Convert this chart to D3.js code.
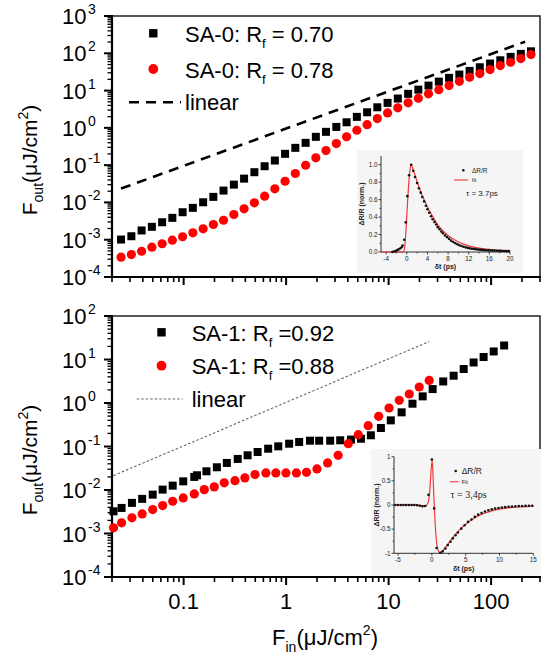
<!DOCTYPE html>
<html>
<head>
<meta charset="utf-8">
<script src="https://cdn.jsdelivr.net/npm/d3@7"></script>
<style>
  html, body { margin: 0; padding: 0; background: #fff; }
  svg { display: block; }
</style>
</head>
<body>
<svg id="chart" width="541" height="655"></svg>
<script>
// ---------- fluence axes ----------
const fluenceDomain = [0.02, 300];
const xTickLabels = ["0.1", "1", "10", "100"];
const xTickValues = [0.1, 1, 10, 100];

// ---------- SA-0 (upper panel) ----------
const sa0Fin = [0.0245, 0.0309, 0.0389, 0.049, 0.0617, 0.0776, 0.0977, 0.123, 0.155, 0.195,
  0.245, 0.309, 0.389, 0.49, 0.617, 0.776, 0.977, 1.23, 1.55, 1.95,
  2.45, 3.09, 3.89, 4.9, 6.17, 7.76, 9.77, 12.3, 15.5, 19.5,
  24.5, 30.9, 38.9, 49, 61.7, 77.6, 97.7, 123, 155, 195, 245];
const sa0Rf070 = [1.01e-3, 1.24e-3, 1.77e-3, 2.22e-3, 2.94e-3, 3.86e-3, 5.46e-3, 7.16e-3, 1.01e-2, 1.41e-2,
  2.08e-2, 3.0e-2, 4.35e-2, 6.46e-2, 9.35e-2, 0.133, 0.201, 0.291, 0.396, 0.574,
  0.782, 1.06, 1.41, 1.97, 2.62, 3.56, 4.68, 6.11, 8.17, 10.6,
  13.6, 17.4, 21.9, 26.9, 33.7, 42.2, 53, 64.9, 80, 96.4, 113];
const sa0Rf078 = [3.4e-4, 4.0e-4, 4.9e-4, 6.3e-4, 7.8e-4, 9.7e-4, 1.2e-3, 1.53e-3, 1.96e-3, 2.56e-3,
  3.33e-3, 4.74e-3, 6.73e-3, 9.75e-3, 1.47e-2, 2.32e-2, 3.7e-2, 5.96e-2, 9.93e-2, 0.157,
  0.246, 0.379, 0.574, 0.863, 1.22, 1.77, 2.52, 3.44, 4.68, 6.22,
  8.17, 10.6, 13.6, 17.7, 22.8, 28.6, 36.6, 46.8, 57.4, 72.1, 92.3];
const sa0LinearFin = [0.0245, 215];
const sa0LinearFout = [0.0235, 205];

// ---------- SA-1 (lower panel) ----------
const sa1FinA = [0.0207, 0.0248, 0.0313, 0.0394, 0.0499, 0.0624, 0.0782, 0.0991, 0.127, 0.135,
  0.167, 0.211, 0.264, 0.337, 0.421, 0.527, 0.668, 0.838, 1.07, 1.34,
  1.71, 2.10, 2.69, 3.37, 4.29, 5.37, 6.71, 8.41, 10.5, 13.4,
  17.1, 21.5, 26.9, 34.1, 43.1, 54.0, 67.5, 84.5, 106, 134];
const sa1Rf092 = [3.24e-3, 3.87e-3, 5.06e-3, 6.25e-3, 7.83e-3, 1.02e-2, 1.26e-2, 1.58e-2, 2.0e-2, 2.18e-2,
  2.69e-2, 3.33e-2, 4.19e-2, 5.18e-2, 6.28e-2, 7.48e-2, 8.91e-2, 0.101, 0.116, 0.127,
  0.136, 0.136, 0.136, 0.139, 0.144, 0.151, 0.181, 0.266, 0.399, 0.610,
  0.964, 1.42, 2.09, 3.13, 4.24, 6.04, 8.55, 11.4, 15.3, 21.0];
const sa1FinB = [0.0207, 0.0248, 0.0313, 0.0394, 0.0499, 0.0624, 0.0782, 0.0991, 0.127, 0.159,
  0.199, 0.249, 0.317, 0.396, 0.497, 0.635, 0.794, 0.995, 1.26, 1.58,
  2.0, 2.54, 3.22, 4.04, 5.06, 6.32, 8.0, 10.1, 12.7, 15.9, 19.9, 24.9];
const sa1Rf088 = [1.35e-3, 1.76e-3, 2.29e-3, 2.82e-3, 3.55e-3, 4.39e-3, 5.51e-3, 6.58e-3, 8.13e-3, 1.02e-2,
  1.18e-2, 1.46e-2, 1.64e-2, 1.90e-2, 2.26e-2, 2.47e-2, 2.47e-2, 2.47e-2, 2.47e-2, 2.55e-2,
  3.05e-2, 4.19e-2, 6.28e-2, 0.116, 0.187, 0.301, 0.493, 0.767, 1.15, 1.61, 2.33, 3.31];
const sa1LinearFin = [0.0207, 24.9];
const sa1LinearFout = [0.0214, 25.9];

// ---------- pump-probe insets ----------
const insetATime = [-2.8, -2.5, -2.2, -1.9, -1.6, -1.3, -1.0, -0.8, -0.5, -0.2,
  0.1, 0.45, 0.85, 1.25, 1.6, 2.0, 2.35, 2.7, 3.0, 3.35,
  3.7, 4.0, 4.35, 4.7, 5.0, 5.35, 5.7, 6.0, 6.35, 6.7,
  7.0, 7.4, 7.8, 8.2, 8.6, 9.0, 9.4, 9.8, 10.2, 10.6,
  11.0, 11.4, 11.8, 12.2, 12.6, 13.0, 13.4, 13.8, 14.2, 14.6,
  15.0, 15.4, 15.8, 16.2, 16.6, 17.0, 17.4, 17.8, 18.2, 18.6,
  19.0, 19.4, 19.8];
const insetASignal = [0.0, 0.005, 0.01, 0.02, 0.03, 0.04, 0.055, 0.075, 0.14, 0.34,
  0.64, 0.88, 1.0, 0.93, 0.86, 0.79, 0.73, 0.68, 0.63, 0.58,
  0.53, 0.49, 0.45, 0.41, 0.375, 0.345, 0.315, 0.285, 0.26, 0.235,
  0.215, 0.19, 0.17, 0.15, 0.13, 0.115, 0.1, 0.088, 0.077, 0.068,
  0.06, 0.053, 0.047, 0.042, 0.038, 0.034, 0.031, 0.028, 0.026, 0.024,
  0.022, 0.02, 0.019, 0.018, 0.017, 0.016, 0.015, 0.014, 0.013, 0.012,
  0.011, 0.01, 0.01];
const insetAFitTime = [-5, -1.0, -0.6, -0.3, 0, 0.3, 0.6, 0.85, 1.2, 1.6,
  2.0, 2.5, 3.0, 3.5, 4.0, 5.0, 6.0, 7.0, 8.0, 9.0,
  10, 11, 12, 13, 14, 15, 16, 17, 18, 19, 20];
const insetAFit = [0, 0, 0.01, 0.12, 0.42, 0.72, 0.93, 1.0, 0.95, 0.88,
  0.805, 0.72, 0.645, 0.58, 0.515, 0.41, 0.31, 0.245, 0.19, 0.148,
  0.115, 0.09, 0.071, 0.056, 0.045, 0.036, 0.03, 0.024, 0.02, 0.017, 0.014];
const insetAXTicks = [-4, 0, 4, 8, 12, 16, 20];
const insetAYTicks = [0, 0.2, 0.4, 0.6, 0.8, 1.0];

const insetBTime = [-5.4, -5.0, -4.6, -4.2, -3.8, -3.4, -3.0, -2.6, -2.2, -1.8,
  -1.4, -1.0, -0.5, 0.0, 0.35, 0.7, 1.25, 1.6, 2.0, 2.35,
  2.75, 3.1, 3.5, 3.85, 4.35, 4.85, 5.35, 5.85, 6.35, 6.85,
  7.35, 7.85, 8.35, 8.85, 9.35, 9.85, 10.35, 10.85, 11.35, 11.85,
  12.35, 12.85, 13.35, 13.85, 14.35, 14.85];
const insetBSignal = [0, 0, 0, 0, 0, 0, 0, 0, -0.005, -0.015,
  -0.025, -0.02, 0.21, 0.94, -0.07, -0.89, -0.99, -0.96, -0.9, -0.83,
  -0.76, -0.69, -0.625, -0.57, -0.49, -0.42, -0.35, -0.3, -0.245, -0.2,
  -0.165, -0.135, -0.11, -0.09, -0.075, -0.062, -0.052, -0.044, -0.037, -0.031,
  -0.027, -0.023, -0.02, -0.018, -0.016, -0.015];
const insetBFitTime = [-5.6, -2.0, -1.5, -1.0, -0.6, -0.3, -0.1, 0.05, 0.2, 0.4,
  0.6, 0.85, 1.2, 1.6, 2.0, 2.5, 3.0, 4.0, 5.0, 6.0,
  7, 8, 9, 10, 11, 12, 13, 14, 15];
const insetBFit = [0, 0, -0.01, -0.025, 0.03, 0.3, 0.75, 0.92, 0.5, -0.15,
  -0.62, -0.9, -0.99, -0.95, -0.88, -0.79, -0.69, -0.53, -0.4, -0.295,
  -0.215, -0.16, -0.115, -0.085, -0.065, -0.05, -0.04, -0.032, -0.025];
const insetBXTicks = [-5, 0, 5, 10, 15];
const insetBYTicks = [-1, -0.5, 0, 0.5, 1];
const insetBYLabels = ["-1", "-0.5", "0", "0.5", "1"];

// ---------- drawing ----------
const FONT = '"Liberation Sans", Arial, Helvetica, sans-serif';
const RED = "#ff0000";
const svg = d3.select("#chart");
const x = d3.scaleLog().domain(fluenceDomain).range([112, 540]);
const isPow10 = v => Math.abs(Math.log10(v) - Math.round(Math.log10(v))) < 1e-6;

function drawPanel(o) {
  const y = d3.scaleLog().domain(o.yDomain).range(o.yRange);
  const [yb, yt] = o.yRange;
  const g = svg.append("g");

  // frame (top/right) and thick left/bottom axes
  g.append("path").attr("d", `M112,${yt}H540V${yb}`)
    .attr("fill", "none").attr("stroke", "#222").attr("stroke-width", 1.5);

  x.ticks().forEach(v => {
    const M = isPow10(v);
    g.append("line").attr("x1", x(v)).attr("x2", x(v))
      .attr("y1", yb).attr("y2", yb + (M ? 8 : 5))
      .attr("stroke", "#000").attr("stroke-width", M ? 2 : 1.6);
  });
  y.ticks().forEach(v => {
    const M = isPow10(v);
    g.append("line").attr("y1", y(v)).attr("y2", y(v))
      .attr("x1", 112).attr("x2", 112 - (M ? 8 : 4.5))
      .attr("stroke", "#000").attr("stroke-width", M ? 2 : 1.3);
  });
  g.append("line").attr("x1", 112).attr("x2", 112).attr("y1", yt - 1).attr("y2", yb + 1)
    .attr("stroke", "#000").attr("stroke-width", 2.2);
  g.append("line").attr("x1", 111).attr("x2", 541).attr("y1", yb).attr("y2", yb)
    .attr("stroke", "#000").attr("stroke-width", 2.2);

  // y tick labels 10^n
  const lo = Math.round(Math.log10(o.yDomain[0])), hi = Math.round(Math.log10(o.yDomain[1]));
  for (let e = lo; e <= hi; e++) {
    const yy = y(Math.pow(10, e));
    g.append("text").attr("x", 86.5).attr("y", yy + 8).attr("text-anchor", "end")
      .attr("font-family", FONT).attr("font-size", 22).text("10");
    g.append("text").attr("x", 88).attr("y", yy - 2).attr("text-anchor", "start")
      .attr("font-family", FONT).attr("font-size", 14).text(String(e));
  }

  // linear reference line
  const line = d3.line().x(d => x(d[0])).y(d => y(d[1]));
  g.append("path").datum(o.linX.map((v, i) => [v, o.linY[i]]))
    .attr("d", line).attr("fill", "none")
    .attr("stroke", o.linStroke).attr("stroke-width", o.linWidth)
    .attr("stroke-dasharray", o.linDash);

  // series
  g.append("g").selectAll("rect").data(o.sqX.map((v, i) => [v, o.sqY[i]])).join("rect")
    .attr("x", d => x(d[0]) - 4).attr("y", d => y(d[1]) - 4)
    .attr("width", 8).attr("height", 8).attr("fill", "#000");
  g.append("g").selectAll("circle").data(o.ciX.map((v, i) => [v, o.ciY[i]])).join("circle")
    .attr("cx", d => x(d[0])).attr("cy", d => y(d[1])).attr("r", 4.6).attr("fill", RED);

  // legend
  const L = o.legend;
  g.append("rect").attr("x", L.mx - 4.2).attr("y", L.y1 - 4.2).attr("width", 8.4).attr("height", 8.4).attr("fill", "#000");
  g.append("circle").attr("cx", L.mx).attr("cy", L.y2).attr("r", 4.9).attr("fill", RED);
  const lab = (yy, main, rest) => {
    const t = g.append("text").attr("x", L.tx).attr("y", yy).attr("font-family", FONT).attr("font-size", 22).attr("fill", "#000");
    t.append("tspan").text(main);
    t.append("tspan").attr("font-size", 13).attr("dy", 6).text("f");
    t.append("tspan").attr("dy", -6).text(rest);
  };
  lab(L.y1 + 8.5, L.t1a, L.t1b);
  lab(L.y2 + 8.5, L.t2a, L.t2b);
  g.append("line").attr("x1", L.lx0).attr("x2", L.lx1).attr("y1", L.y3).attr("y2", L.y3)
    .attr("stroke", o.linStroke).attr("stroke-width", o.linWidth).attr("stroke-dasharray", o.linDash);
  g.append("text").attr("x", L.tx).attr("y", L.y3 + 7.5).attr("font-family", FONT).attr("font-size", 22).text("linear");

  // y title
  const t = g.append("text").attr("transform", `translate(37,${o.titleY}) rotate(-90)`)
    .attr("text-anchor", "middle").attr("font-family", FONT).attr("font-size", 21);
  t.append("tspan").text("F");
  t.append("tspan").attr("font-size", 14).attr("dy", 6).text("out");
  t.append("tspan").attr("dy", -6).text("(\u03bcJ/cm");
  t.append("tspan").attr("font-size", 14).attr("dy", -9).text("2");
  t.append("tspan").attr("dy", 9).text(")");
  return y;
}

drawPanel({
  yDomain: [1e-4, 1e3], yRange: [277, 16],
  sqX: sa0Fin, sqY: sa0Rf070, ciX: sa0Fin, ciY: sa0Rf078,
  linX: sa0LinearFin, linY: sa0LinearFout,
  linStroke: "#000", linWidth: 2.6, linDash: "10,7",
  legend: { mx: 153.3, tx: 185, y1: 33.3, y2: 69, y3: 102.3, lx0: 129, lx1: 181,
    t1a: "SA-0: R", t1b: " = 0.70", t2a: "SA-0: R", t2b: " = 0.78" },
  titleY: 160
});

drawPanel({
  yDomain: [1e-4, 1e2], yRange: [577, 316],
  sqX: sa1FinA, sqY: sa1Rf092, ciX: sa1FinB, ciY: sa1Rf088,
  linX: sa1LinearFin, linY: sa1LinearFout,
  linStroke: "#666", linWidth: 1.1, linDash: "2.5,2",
  legend: { mx: 161.5, tx: 191.7, y1: 332.3, y2: 365.7, y3: 399, lx0: 136.7, lx1: 182.7,
    t1a: "SA-1: R", t1b: " =0.92", t2a: "SA-1: R", t2b: " =0.88" },
  titleY: 460
});

// x tick labels and title (shared fluence axis)
xTickValues.forEach((v, i) => {
  svg.append("text").attr("x", x(v)).attr("y", 609).attr("text-anchor", "middle")
    .attr("font-family", FONT).attr("font-size", 22).text(xTickLabels[i]);
});
{
  const t = svg.append("text").attr("x", 325).attr("y", 645).attr("text-anchor", "middle")
    .attr("font-family", FONT).attr("font-size", 22);
  t.append("tspan").text("F");
  t.append("tspan").attr("font-size", 14).attr("dy", 7).text("in");
  t.append("tspan").attr("dy", -7).text("(\u03bcJ/cm");
  t.append("tspan").attr("font-size", 14).attr("dy", -10).text("2");
  t.append("tspan").attr("dy", 10).text(")");
}

// ---------- insets ----------
function drawInset(o) {
  const g = svg.append("g");
  g.append("rect").attr("x", o.box[0]).attr("y", o.box[1]).attr("width", o.box[2]).attr("height", o.box[3])
    .attr("fill", "#f5f5f5");
  const ix = d3.scaleLinear().domain(o.xDomain).range(o.xRange);
  const iy = d3.scaleLinear().domain(o.yDomain).range(o.yRange);
  const [x0, x1] = o.xRange, [yb, yt] = o.yRange;

  o.xMinor.forEach(v => g.append("line").attr("x1", ix(v)).attr("x2", ix(v)).attr("y1", yb).attr("y2", yb + 1.5).attr("stroke", "#000").attr("stroke-width", 0.6));
  o.yMinor.forEach(v => g.append("line").attr("y1", iy(v)).attr("y2", iy(v)).attr("x1", x0).attr("x2", x0 - 1.5).attr("stroke", "#000").attr("stroke-width", 0.6));
  o.xTicks.forEach(v => {
    g.append("line").attr("x1", ix(v)).attr("x2", ix(v)).attr("y1", yb).attr("y2", yb + 2.5).attr("stroke", "#000").attr("stroke-width", 0.7);
    g.append("text").attr("x", ix(v)).attr("y", yb + 8.5).attr("text-anchor", "middle")
      .attr("font-family", FONT).attr("font-size", 6.3).attr("fill", "#222").text(String(v));
  });
  o.yTicks.forEach((v, i) => {
    g.append("line").attr("y1", iy(v)).attr("y2", iy(v)).attr("x1", x0).attr("x2", x0 - 2.5).attr("stroke", "#000").attr("stroke-width", 0.7);
    g.append("text").attr("x", x0 - 3.5).attr("y", iy(v) + 2.2).attr("text-anchor", "end")
      .attr("font-family", FONT).attr("font-size", 6.3).attr("fill", "#222").text(o.yLabels[i]);
  });
  g.append("path").attr("d", `M${x0},${yt}V${yb}H${x1}`).attr("fill", "none").attr("stroke", "#000").attr("stroke-width", 0.8);

  const fit = d3.line().x(d => ix(d[0])).y(d => iy(d[1])).curve(d3.curveMonotoneX);
  g.append("path").datum(o.fitT.map((v, i) => [v, o.fitV[i]])).attr("d", fit)
    .attr("fill", "none").attr("stroke", "#f03838").attr("stroke-width", 1.2);
  g.append("g").selectAll("circle").data(o.dotT.map((v, i) => [v, o.dotV[i]])).join("circle")
    .attr("cx", d => ix(d[0])).attr("cy", d => iy(d[1])).attr("r", 1.3).attr("fill", "#111");

  // axis titles
  g.append("text").attr("x", (x0 + x1) / 2).attr("y", o.xTitleY).attr("text-anchor", "middle")
    .attr("font-family", FONT).attr("font-size", 7).attr("font-weight", "bold").attr("fill", "#222").text("\u03b4t (ps)");
  g.append("text").attr("transform", `translate(${o.yTitleX},${(yb + yt) / 2}) rotate(-90)`).attr("text-anchor", "middle")
    .attr("font-family", FONT).attr("font-size", 7).attr("font-weight", "bold").attr("fill", "#222").text("\u0394R/R (norm.)");

  // legend
  const L = o.legend;
  g.append("circle").attr("cx", L.dx).attr("cy", L.dy).attr("r", 1.3).attr("fill", "#111");
  g.append("text").attr("x", L.tx).attr("y", L.dy + L.fs1 * 0.36).attr("font-family", FONT).attr("font-size", L.fs1).attr("fill", "#222").text("\u0394R/R");
  g.append("line").attr("x1", L.lx0).attr("x2", L.lx1).attr("y1", L.ly).attr("y2", L.ly).attr("stroke", "#f03838").attr("stroke-width", 1.1);
  g.append("text").attr("x", L.tx).attr("y", L.ly + 2).attr("font-family", FONT).attr("font-size", 5.5).attr("fill", "#222").text(L.fitLabel);
  g.append("text").attr("x", L.taux).attr("y", L.tauy).attr("font-family", L.tauFont).attr("font-size", L.tauSize).attr("fill", "#222").text(L.tau);
}

drawInset({
  box: [357, 150, 166, 123],
  xDomain: [-5, 20], xRange: [381, 510], yDomain: [0, 1.1], yRange: [252, 156],
  xTicks: insetAXTicks, yTicks: insetAYTicks, yLabels: insetAYTicks.map(v => v.toFixed(1)),
  xMinor: [-2, 2, 6, 10, 14, 18], yMinor: [0.1, 0.3, 0.5, 0.7, 0.9],
  dotT: insetATime, dotV: insetASignal, fitT: insetAFitTime, fitV: insetAFit,
  xTitleY: 269, yTitleX: 364,
  legend: { dx: 463.3, dy: 170.3, tx: 472, fs1: 6.5, lx0: 454, lx1: 468, ly: 180, fitLabel: "fit",
    taux: 466, tauy: 196, tau: "\u03c4 = 3.7ps", tauFont: FONT, tauSize: 8 }
});

drawInset({
  box: [371, 449, 170, 127],
  xDomain: [-5.6, 15], xRange: [394, 533.3], yDomain: [-1, 1], yRange: [553.3, 456.7],
  xTicks: insetBXTicks, yTicks: insetBYTicks, yLabels: insetBYLabels,
  xMinor: [-2.5, 2.5, 7.5, 12.5], yMinor: [-0.75, -0.25, 0.25, 0.75],
  dotT: insetBTime, dotV: insetBSignal, fitT: insetBFitTime, fitV: insetBFit,
  xTitleY: 571, yTitleX: 379,
  legend: { dx: 455.7, dy: 471, tx: 461.7, fs1: 8.5, lx0: 450, lx1: 458.5, ly: 481.7, fitLabel: "Fit",
    taux: 450.5, tauy: 497.5, tau: "\u03c4 = 3,4ps", tauFont: '"Liberation Serif", "Times New Roman", serif', tauSize: 10 }
});
</script>
</body>
</html>
